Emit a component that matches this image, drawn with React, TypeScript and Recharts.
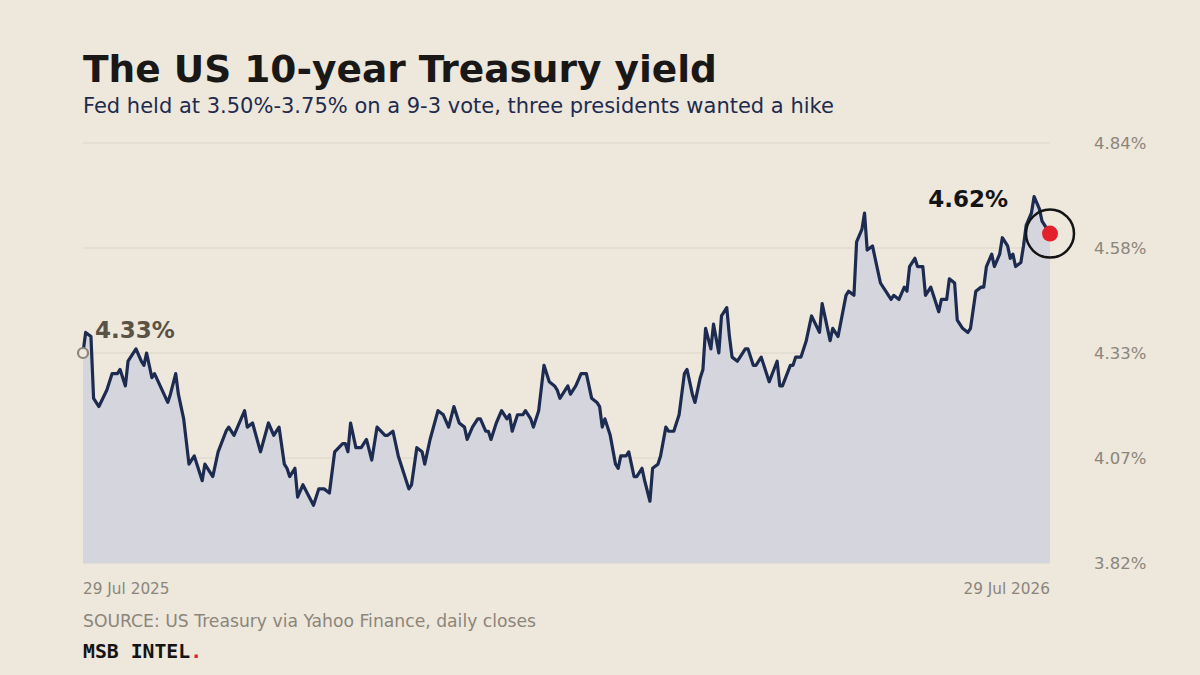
import { AreaChart, Area, XAxis, YAxis, CartesianGrid, ReferenceDot } from 'recharts'

// Calendar days since 29 Jul 2025, paired with the 10-year yield close (%)
const days = [
  0, 1, 3, 4, 6, 9, 11, 13, 14, 16, 17, 20, 22, 23, 24, 26, 27, 32, 33, 35,
  36, 38, 40, 42, 45, 46, 49, 51, 54, 55, 57, 61, 62, 64, 67, 70, 72, 73, 74, 76,
  77, 78, 80, 81, 83, 87, 89, 91, 93, 95, 98, 99, 100, 101, 103, 105, 107, 109, 111, 114,
  115, 117, 119, 121, 123, 124, 126, 128, 129, 131, 134, 136, 138, 140, 141, 142, 144, 145, 147, 149,
  150, 152, 153, 154, 156, 158, 160, 161, 162, 164, 166, 167, 169, 170, 172, 174, 176, 178, 179, 180,
  182, 183, 184, 186, 188, 190, 192, 194, 195, 196, 197, 199, 201, 202, 203, 205, 206, 208, 209, 211,
  212, 214, 215, 217, 218, 220, 221, 223, 225, 227, 228, 230, 231, 233, 234, 235, 237, 238, 240, 241,
  243, 244, 245, 247, 248, 250, 251, 253, 254, 256, 259, 262, 263, 264, 267, 268, 269, 271, 273, 275,
  278, 279, 282, 283, 285, 288, 289, 291, 292, 294, 295, 296, 298, 299, 301, 303, 305, 306, 308, 310,
  311, 312, 314, 315, 317, 318, 320, 321, 323, 324, 326, 327, 329, 330, 332, 334, 335, 337, 339, 340,
  341, 343, 344, 346, 347, 349, 350, 351, 352, 354, 355, 356, 358, 359, 361, 362, 365,
]

const yields = [
  4.33, 4.38, 4.37, 4.22, 4.2, 4.24, 4.28, 4.28, 4.29, 4.25, 4.31, 4.34, 4.31, 4.3, 4.33, 4.27, 4.28, 4.21, 4.23, 4.28,
  4.23, 4.17, 4.06, 4.08, 4.02, 4.06, 4.03, 4.09, 4.14, 4.15, 4.13, 4.19, 4.15, 4.16, 4.09, 4.16, 4.13, 4.14, 4.15, 4.06,
  4.05, 4.03, 4.05, 3.98, 4.01, 3.96, 4.0, 4.0, 3.99, 4.09, 4.11, 4.11, 4.09, 4.16, 4.1, 4.1, 4.12, 4.07, 4.15, 4.13,
  4.13, 4.14, 4.08, 4.04, 4.0, 4.01, 4.1, 4.09, 4.06, 4.12, 4.19, 4.18, 4.15, 4.2, 4.18, 4.16, 4.15, 4.12, 4.15, 4.17,
  4.17, 4.14, 4.14, 4.12, 4.16, 4.19, 4.17, 4.18, 4.14, 4.18, 4.18, 4.19, 4.17, 4.15, 4.19, 4.3, 4.26, 4.25, 4.24, 4.22,
  4.24, 4.25, 4.23, 4.25, 4.28, 4.28, 4.22, 4.21, 4.2, 4.15, 4.17, 4.13, 4.06, 4.05, 4.08, 4.08, 4.09, 4.03, 4.03, 4.05,
  4.02, 3.97, 4.05, 4.06, 4.08, 4.15, 4.14, 4.14, 4.18, 4.28, 4.29, 4.23, 4.21, 4.27, 4.29, 4.39, 4.34, 4.4, 4.33, 4.42,
  4.44, 4.37, 4.32, 4.31, 4.32, 4.34, 4.34, 4.3, 4.3, 4.32, 4.26, 4.31, 4.25, 4.25, 4.3, 4.3, 4.32, 4.32, 4.36, 4.42,
  4.38, 4.45, 4.36, 4.39, 4.37, 4.47, 4.48, 4.47, 4.6, 4.63, 4.67, 4.58, 4.59, 4.56, 4.5, 4.48, 4.46, 4.47, 4.46, 4.49,
  4.48, 4.54, 4.56, 4.54, 4.54, 4.47, 4.49, 4.47, 4.43, 4.46, 4.46, 4.51, 4.5, 4.41, 4.39, 4.38, 4.39, 4.48, 4.49, 4.49,
  4.54, 4.57, 4.54, 4.57, 4.61, 4.59, 4.56, 4.57, 4.54, 4.55, 4.59, 4.64, 4.67, 4.71, 4.68, 4.65, 4.62,
]

const yTicks = [3.82, 4.075, 4.33, 4.585, 4.84]
const yTickLabels = ['3.82%', '4.07%', '4.33%', '4.58%', '4.84%']
const xTicks = [0, 365]
const xTickLabels = ['29 Jul 2025', '29 Jul 2026']

const data = days.map((d, i) => ({ day: d, yield: yields[i] }))
const first = data[0]
const last = data[data.length - 1]

const BG = '#ede7dc'
const NAVY = '#1c2b4f'
const GREY = '#8c857a'
const FONT = '"DejaVu Sans", sans-serif'

const DateTick = (props: any) => {
  const { x, y, payload, index } = props
  return (
    <text x={x} y={y + 23} textAnchor={index === 0 ? 'start' : 'end'}
      fontSize={15.3} fill={GREY} fontFamily={FONT}>
      {xTickLabels[xTicks.indexOf(payload.value)]}
    </text>
  )
}

const StartMark = (props: any) => {
  const { cx, cy } = props
  return (
    <g>
      <circle cx={cx} cy={cy} r={5} fill={BG} stroke={GREY} strokeWidth={2.2} />
      <text x={cx + 12} y={cy - 15} fontSize={23} fontWeight="bold" fill="#5a5245" fontFamily={FONT}>
        {first.yield.toFixed(2)}%
      </text>
    </g>
  )
}

const EndMark = (props: any) => {
  const { cx, cy } = props
  return (
    <g>
      <circle cx={cx} cy={cy} r={8} fill="#e3202c" />
      <circle cx={cx} cy={cy} r={24} fill="none" stroke="#141414" strokeWidth={2.5} />
      <text x={cx - 42} y={cy - 27} textAnchor="end" fontSize={23} fontWeight="bold" fill="#141414" fontFamily={FONT}>
        {last.yield.toFixed(2)}%
      </text>
    </g>
  )
}

export default function App() {
  return (
    <div style={{ position: 'absolute', left: 0, top: 0, width: 1200, height: 675, background: BG, overflow: 'hidden' }}>
      <AreaChart width={1200} height={675} data={data}
        margin={{ top: 143, right: 0, bottom: 82, left: 83 }}>
        <CartesianGrid horizontal vertical={false} stroke="#ddd6ca" strokeWidth={1} />
        <XAxis dataKey="day" type="number" domain={[0, 365]} ticks={xTicks}
          tick={<DateTick />} tickLine={false} axisLine={false} height={30} />
        <YAxis orientation="right" domain={[3.82, 4.84]} ticks={yTicks} width={150}
          tickFormatter={(v: number) => yTickLabels[yTicks.indexOf(v)]}
          tick={{ fontSize: 16.5, fill: GREY, fontFamily: FONT, textAnchor: 'start' }}
          tickLine={false} axisLine={false} tickMargin={38} />
        <Area type="linear" dataKey="yield" stroke={NAVY} strokeWidth={3.2} strokeLinejoin="round"
          fill="#d5d6dd" fillOpacity={1}
          baseValue={3.82} isAnimationActive={false} dot={false} activeDot={false} />
        <ReferenceDot x={first.day} y={first.yield} r={5} shape={<StartMark />} />
        <ReferenceDot x={last.day} y={last.yield} r={8} shape={<EndMark />} />
      </AreaChart>
      <svg width={1200} height={675} style={{ position: 'absolute', left: 0, top: 0, pointerEvents: 'none' }}>
        <text x={83} y={82} fontSize={37.5} fontWeight="bold" fill="#1a1816" fontFamily={FONT}>
          The US 10-year Treasury yield
        </text>
        <text x={83} y={113} fontSize={21} fill="#1f2b4d" fontFamily={FONT}>
          Fed held at 3.50%-3.75% on a 9-3 vote, three presidents wanted a hike
        </text>
        <text x={83} y={627} fontSize={17.2} fill={GREY} fontFamily={FONT}>
          SOURCE: US Treasury via Yahoo Finance, daily closes
        </text>
        <text x={83} y={658} fontSize={19.8} fontWeight="bold" fill="#141414" fontFamily='"DejaVu Sans Mono", monospace'>
          MSB INTEL<tspan fill="#e3202c">.</tspan>
        </text>
      </svg>
    </div>
  )
}
